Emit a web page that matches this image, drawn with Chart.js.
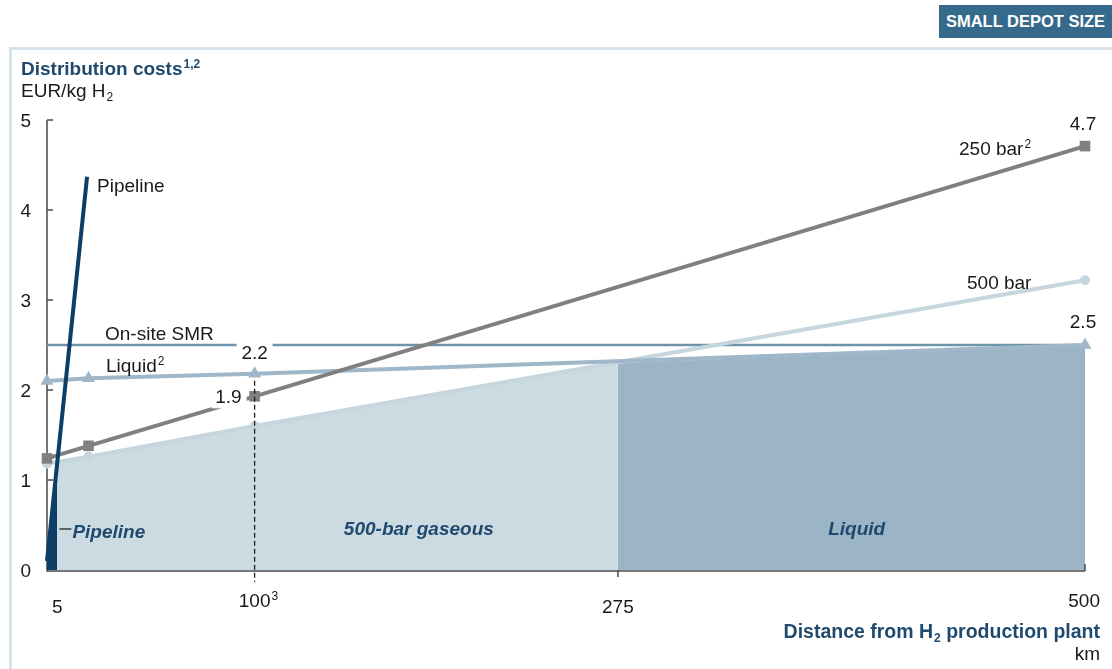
<!DOCTYPE html>
<html>
<head>
<meta charset="utf-8">
<script src="https://cdn.jsdelivr.net/npm/chart.js@4.4.1/dist/chart.umd.min.js"></script>
<style>
  html, body { margin: 0; padding: 0; background: #fff; }
  #wrap { position: relative; width: 1112px; height: 669px; overflow: hidden; }
  #frame { position: absolute; left: 9px; top: 47px; width: 1120px; height: 640px;
    border-left: 3px solid #d6e2ea; border-top: 3px solid #d6e2ea; box-sizing: border-box; }
  #badge { position: absolute; left: 939px; top: 5px; width: 173px; height: 33px; background: #356a8c;
    color: #fff; font: bold 16.5px "Liberation Sans", Arial, sans-serif; line-height: 33px; text-align: center; }
  canvas { position: absolute; left: 0; top: 0; }
</style>
</head>
<body>
<div id="wrap">
  <div id="frame"></div>
  <div id="badge">SMALL DEPOT SIZE</div>
  <canvas id="chart" width="1112" height="669"></canvas>
</div>
<script>
// values (km, EUR/kg H2)
const distanceKm = [0, 20, 100, 500];
const bar250Cost = [1.24, 1.38, 1.93, 4.71];
const bar500Cost = [1.18, 1.26, 1.6, 3.22];
const liquidCost = [2.1, 2.13, 2.18, 2.5];

const smrKm = [0, 500];
const smrCost = [2.5, 2.5];

const pipelineKm = [0, 19.3];
const pipelineCost = [0.1, 4.37];

// cheapest-option areas
const pipeAreaKm = [0, 5];
const pipeAreaCost = [0.1, 1.2];
const gasAreaKm = [5, 20, 100, 275];
const gasAreaCost = [1.2, 1.26, 1.6, 2.3];
const liquidAreaKm = [275, 500];
const liquidAreaCost = [2.3, 2.49];

const xTicks = [5, 100, 275, 500];
const xTickLabels = ["5", "100", "275", "500"];
const yTicks = [0, 1, 2, 3, 4, 5];

const FONT = '"Liberation Sans", Arial, sans-serif';
const NAVY = "#1f4a6e";

const pts = (xs, ys) => xs.map((x, i) => ({ x: x, y: ys[i] }));

function text(ctx, str, x, y, opts) {
  opts = opts || {};
  ctx.font = (opts.style || "") + " " + (opts.size || 19) + "px " + FONT;
  ctx.fillStyle = opts.color || "#1a1a1a";
  ctx.textAlign = opts.align || "left";
  ctx.textBaseline = "alphabetic";
  ctx.fillText(str, x, y);
  const w = ctx.measureText(str).width;
  let right = opts.align === "right" ? x : opts.align === "center" ? x + w / 2 : x + w;
  if (opts.sup) {
    ctx.font = (opts.style || "") + " 12px " + FONT;
    ctx.textAlign = "left";
    ctx.fillText(opts.sup, right + 1, y - 7);
  }
  if (opts.sub) {
    ctx.font = (opts.style || "") + " 12px " + FONT;
    ctx.textAlign = "left";
    ctx.fillText(opts.sub, right + 1, y + 4);
  }
  return w;
}

function whiteBox(ctx, x, y, w, h) {
  ctx.fillStyle = "#fff";
  ctx.fillRect(x, y, w, h);
}

const decorations = {
  id: "decorations",
  beforeDatasetsDraw(chart) {
    const ctx = chart.ctx, xs = chart.scales.x, ys = chart.scales.y;
    const a = chart.chartArea;
    ctx.save();
    ctx.strokeStyle = "#4a4a4a";
    ctx.lineWidth = 1.5;
    ctx.beginPath();
    ctx.moveTo(a.left, a.top);
    ctx.lineTo(a.left, a.bottom + 1);
    ctx.lineTo(a.right, a.bottom + 1);
    ctx.stroke();
    // y ticks (inside)
    yTicks.forEach(v => {
      if (v === 0) return;
      const py = ys.getPixelForValue(v);
      ctx.beginPath();
      ctx.moveTo(a.left, py);
      ctx.lineTo(a.left + 6, py);
      ctx.stroke();
    });
    ctx.restore();
  },
  afterDatasetsDraw(chart) {
    const ctx = chart.ctx, xs = chart.scales.x, ys = chart.scales.y;
    const a = chart.chartArea;
    ctx.save();

    // x ticks
    ctx.strokeStyle = "#4a4a4a";
    ctx.lineWidth = 1.5;
    let px = xs.getPixelForValue(275);
    ctx.beginPath(); ctx.moveTo(px, a.bottom); ctx.lineTo(px, a.bottom + 7); ctx.stroke();
    px = xs.getPixelForValue(500);
    ctx.beginPath(); ctx.moveTo(px, a.bottom - 6); ctx.lineTo(px, a.bottom + 1); ctx.stroke();

    // dashed drop line at 100 km
    px = xs.getPixelForValue(distanceKm[2]);
    ctx.strokeStyle = "#222";
    ctx.lineWidth = 1.3;
    ctx.setLineDash([5, 3]);
    ctx.beginPath();
    ctx.moveTo(px, ys.getPixelForValue(liquidCost[2]) + 7);
    ctx.lineTo(px, a.bottom + 12);
    ctx.stroke();
    ctx.setLineDash([]);

    // y tick labels
    yTicks.forEach(v => {
      text(ctx, String(v), 31, ys.getPixelForValue(v) + 7, { align: "right" });
    });

    // x tick labels
    const xBase = [613, 607, 613, 607];
    xTicks.forEach((v, i) => {
      const p = xs.getPixelForValue(v);
      if (i === 1) {
        text(ctx, xTickLabels[i], p, xBase[i], { align: "center", sup: "3" });
      } else if (i === 3) {
        text(ctx, xTickLabels[i], p + 15, xBase[i], { align: "right" });
      } else {
        text(ctx, xTickLabels[i], p, xBase[i], { align: "center" });
      }
    });

    // axis titles
    text(ctx, "Distribution costs", 21, 75, { style: "bold", color: NAVY, sup: "1,2" });
    text(ctx, "EUR/kg H", 21, 97, { sub: "2" });
    ctx.font = "bold 19.5px " + FONT;
    const w2 = ctx.measureText(" production plant").width;
    text(ctx, " production plant", 1100, 638, { style: "bold", color: NAVY, align: "right", size: 19.5 });
    ctx.font = "bold 12px " + FONT;
    const wsub = ctx.measureText("2").width;
    text(ctx, "2", 1100 - w2 - wsub, 642, { style: "bold", color: NAVY, size: 12 });
    text(ctx, "Distance from H", 1100 - w2 - wsub - 1, 638, { style: "bold", color: NAVY, align: "right", size: 19.5 });
    text(ctx, "km", 1100, 660, { align: "right" });

    // series labels
    const end = distanceKm.length - 1;
    const xEnd = xs.getPixelForValue(distanceKm[end]);
    text(ctx, "4.7", xEnd - 2, ys.getPixelForValue(bar250Cost[end]) - 16, { align: "center" });
    text(ctx, "250 bar", xEnd - 126, ys.getPixelForValue(bar250Cost[end]) + 9, { sup: "2" });
    text(ctx, "500 bar", xEnd - 118, ys.getPixelForValue(bar500Cost[end]) + 9);
    text(ctx, "2.5", xEnd - 2, ys.getPixelForValue(liquidCost[end]) - 17, { align: "center" });

    const x100 = xs.getPixelForValue(distanceKm[2]);
    let by = ys.getPixelForValue(liquidCost[2]) - 15;
    whiteBox(ctx, x100 - 18, by - 17, 36, 22);
    text(ctx, "2.2", x100, by, { align: "center" });
    by = ys.getPixelForValue(bar250Cost[2]) + 7;
    whiteBox(ctx, x100 - 43, by - 17, 35, 22);
    text(ctx, "1.9", x100 - 13, by, { align: "right" });

    const xp = xs.getPixelForValue(pipelineKm[1]);
    text(ctx, "Pipeline", xp + 10, ys.getPixelForValue(pipelineCost[1]) + 15);
    text(ctx, "On-site SMR", 105, ys.getPixelForValue(smrCost[0]) - 5);
    text(ctx, "Liquid", 106, ys.getPixelForValue(liquidCost[1]) - 6, { sup: "2" });

    // area labels
    const ay = ys.getPixelForValue(0) - 35;
    ctx.strokeStyle = "#222";
    ctx.lineWidth = 1.3;
    ctx.beginPath();
    ctx.moveTo(xs.getPixelForValue(pipeAreaKm[1]) + 2, ay - 6);
    ctx.lineTo(xs.getPixelForValue(pipeAreaKm[1]) + 14, ay - 6);
    ctx.stroke();
    text(ctx, "Pipeline", xs.getPixelForValue(pipeAreaKm[1]) + 15, ay + 3, { style: "italic bold", color: NAVY });
    text(ctx, "500-bar gaseous", xs.getPixelForValue(143), ay, { style: "italic bold", color: NAVY });
    text(ctx, "Liquid", xs.getPixelForValue(390), ay, { style: "italic bold", color: NAVY, align: "center" });

    ctx.restore();
  }
};

const fillSet = (data, color, order) => ({
  data: data, showLine: true, fill: "origin", backgroundColor: color,
  borderWidth: 0, borderColor: color, pointRadius: 0, order: order, tension: 0
});
const lineSet = (data, color, width, point, radius, order) => ({
  data: data, showLine: true, fill: false, borderColor: color, borderWidth: width,
  pointStyle: point, pointRadius: radius, pointBackgroundColor: color, pointBorderColor: color,
  pointBorderWidth: 0, order: order, clip: false, tension: 0
});

new Chart(document.getElementById("chart"), {
  type: "scatter",
  data: {
    datasets: [
      fillSet(pts(gasAreaKm, gasAreaCost), "#ccdae2", 10),
      fillSet(pts(liquidAreaKm, liquidAreaCost), "#9bb4c6", 9),
      fillSet(pts(pipeAreaKm, pipeAreaCost), "#0d3f66", 8),
      lineSet(pts(smrKm, smrCost), "#6e94ab", 2.5, false, 0, 7),
      lineSet(pts(distanceKm, bar500Cost), "#c6d6df", 4, "circle", 5, 6),
      lineSet(pts(distanceKm, liquidCost), "#9fb7c8", 4, "triangle", 7.5, 5),
      lineSet(pts(distanceKm, bar250Cost), "#808080", 4, "rect", 7.5, 4),
      lineSet(pts(pipelineKm, pipelineCost), "#0d3f66", 4, false, 0, 3)
    ]
  },
  options: {
    responsive: false,
    animation: false,
    events: [],
    layout: { padding: { left: 47, right: 27, top: 120, bottom: 99 } },
    plugins: { legend: { display: false }, tooltip: { enabled: false } },
    scales: {
      x: { type: "linear", min: 0, max: 500, display: false },
      y: { type: "linear", min: 0, max: 5, display: false }
    }
  },
  plugins: [decorations]
});
</script>
</body>
</html>
